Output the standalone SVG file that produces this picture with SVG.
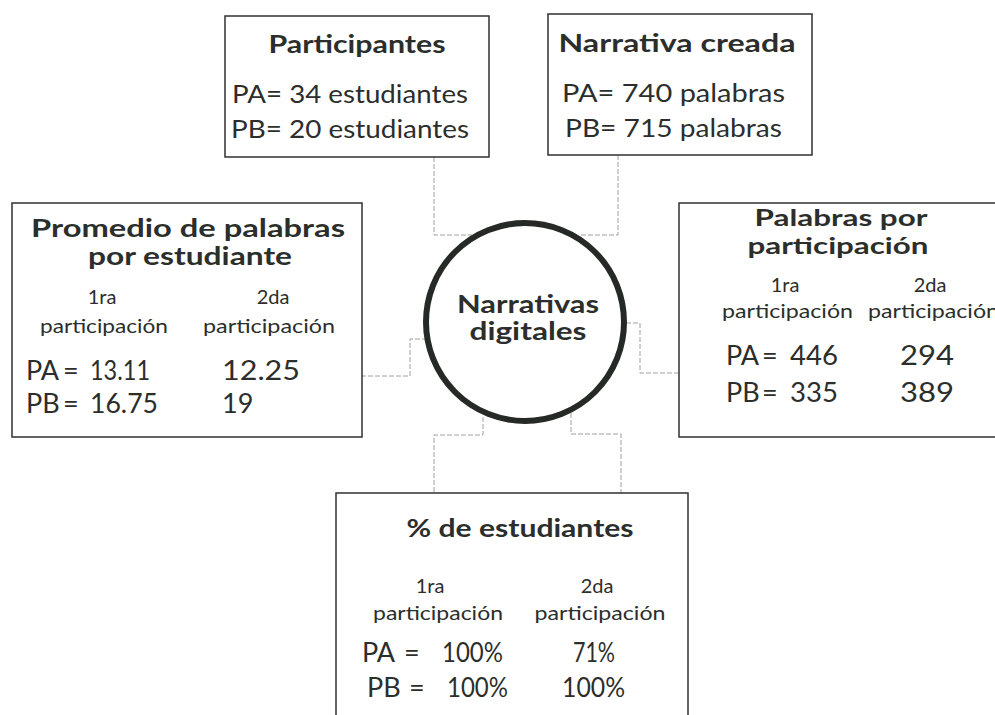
<svg xmlns="http://www.w3.org/2000/svg" width="995" height="715" viewBox="0 0 995 715">
<style>
  .box { fill: #ffffff; stroke: #2f312f; stroke-width: 1.5; }
  .conn { fill: none; stroke: #a0a0a0; stroke-width: 1; stroke-dasharray: 5 2; }
  .t { font-family: "Lato", "Liberation Sans", sans-serif; fill: #2b2e2b; }
  .h { font-weight: 700; font-size: 24px; }
  .h2 { font-weight: 700; font-size: 22px; }
  .b { font-weight: 400; font-size: 25px; }
  .s { font-weight: 400; font-size: 20px; }
  .n { font-weight: 400; font-size: 27px; }
  .m { text-anchor: middle; }
</style>
<rect width="995" height="715" fill="#ffffff"/>

<g id="connectors">
  <polyline class="conn" points="434,157 434,235 472,235"/>
  <polyline class="conn" points="618,155 618,235 581,235"/>
  <polyline class="conn" points="361,376 410,376 410,339 425,339"/>
  <polyline class="conn" points="626,323 640,323 640,373 679,373"/>
  <polyline class="conn" points="483,417 483,435 434,435 434,493"/>
  <polyline class="conn" points="571,413 571,434 621,434 621,493"/>
</g>

<g id="participantes">
  <rect class="box" x="225" y="16" width="264" height="141"/>
  <text class="t h m" x="357" y="53" textLength="177" lengthAdjust="spacingAndGlyphs">Participantes</text>
  <text class="t b" x="232" y="103" textLength="236" lengthAdjust="spacingAndGlyphs">PA= 34 estudiantes</text>
  <text class="t b" x="231" y="138" textLength="238" lengthAdjust="spacingAndGlyphs">PB= 20 estudiantes</text>
</g>

<g id="narrativa-creada">
  <rect class="box" x="548" y="14" width="264" height="141"/>
  <text class="t h m" x="677" y="52" textLength="237" lengthAdjust="spacingAndGlyphs">Narrativa creada</text>
  <text class="t b" x="562" y="102" textLength="223" lengthAdjust="spacingAndGlyphs">PA= 740 palabras</text>
  <text class="t b" x="565" y="137" textLength="217" lengthAdjust="spacingAndGlyphs">PB= 715 palabras</text>
</g>

<g id="promedio">
  <rect class="box" x="12" y="203" width="350" height="234"/>
  <text class="t h m" x="188" y="237" textLength="314" lengthAdjust="spacingAndGlyphs">Promedio de palabras</text>
  <text class="t h m" x="190" y="265" textLength="204" lengthAdjust="spacingAndGlyphs">por estudiante</text>
  <text class="t s m" x="102" y="304">1ra</text>
  <text class="t s m" x="104" y="333" textLength="128" lengthAdjust="spacingAndGlyphs">participación</text>
  <text class="t s m" x="273" y="304">2da</text>
  <text class="t s m" x="269" y="333" textLength="132" lengthAdjust="spacingAndGlyphs">participación</text>
  <text class="t n" x="26" y="380">PA</text>
  <text class="t n" x="63" y="380">=</text>
  <text class="t n" x="90" y="380" textLength="60" lengthAdjust="spacingAndGlyphs">13.11</text>
  <text class="t n" x="26" y="413">PB</text>
  <text class="t n" x="63" y="413">=</text>
  <text class="t n" x="90" y="413" textLength="68" lengthAdjust="spacingAndGlyphs">16.75</text>
  <text class="t n" x="222" y="380" textLength="78" lengthAdjust="spacingAndGlyphs">12.25</text>
  <text class="t n" x="222" y="413">19</text>
</g>

<g id="palabras-por-participacion">
  <rect class="box" x="679" y="203" width="330" height="234"/>
  <text class="t h2 m" x="841" y="226" textLength="173" lengthAdjust="spacingAndGlyphs">Palabras por</text>
  <text class="t h2 m" x="838" y="254" textLength="181" lengthAdjust="spacingAndGlyphs">participación</text>
  <text class="t s m" x="785" y="292">1ra</text>
  <text class="t s" x="722" y="318" textLength="131" lengthAdjust="spacingAndGlyphs">participación</text>
  <text class="t s m" x="930" y="292">2da</text>
  <text class="t s" x="868" y="318" textLength="131" lengthAdjust="spacingAndGlyphs">participación</text>
  <text class="t n" x="726" y="365">PA</text>
  <text class="t n" x="762" y="365">=</text>
  <text class="t n" x="790" y="365" textLength="48" lengthAdjust="spacingAndGlyphs">446</text>
  <text class="t n" x="900" y="365" textLength="54" lengthAdjust="spacingAndGlyphs">294</text>
  <text class="t n" x="726" y="402">PB</text>
  <text class="t n" x="762" y="402">=</text>
  <text class="t n" x="790" y="402" textLength="48" lengthAdjust="spacingAndGlyphs">335</text>
  <text class="t n" x="900" y="402" textLength="54" lengthAdjust="spacingAndGlyphs">389</text>
</g>

<g id="porcentaje-estudiantes">
  <rect class="box" x="336" y="493" width="352" height="240"/>
  <text class="t h m" x="520" y="537" textLength="227" lengthAdjust="spacingAndGlyphs">% de estudiantes</text>
  <text class="t s m" x="430" y="593">1ra</text>
  <text class="t s m" x="438" y="620" textLength="130" lengthAdjust="spacingAndGlyphs">participación</text>
  <text class="t s m" x="597" y="593">2da</text>
  <text class="t s m" x="600" y="620" textLength="131" lengthAdjust="spacingAndGlyphs">participación</text>
  <text class="t n" x="362" y="662">PA</text>
  <text class="t n" x="404" y="662">=</text>
  <text class="t n" x="442" y="662" textLength="61" lengthAdjust="spacingAndGlyphs">100%</text>
  <text class="t n" x="573" y="662" textLength="42" lengthAdjust="spacingAndGlyphs">71%</text>
  <text class="t n" x="367" y="697">PB</text>
  <text class="t n" x="409" y="697">=</text>
  <text class="t n" x="447" y="697" textLength="61" lengthAdjust="spacingAndGlyphs">100%</text>
  <text class="t n" x="562" y="697" textLength="63" lengthAdjust="spacingAndGlyphs">100%</text>
</g>

<g id="narrativas-digitales">
  <circle cx="525" cy="322" r="99" fill="#ffffff" stroke="#262a26" stroke-width="6"/>
  <text class="t h m" x="528" y="313" textLength="142" lengthAdjust="spacingAndGlyphs">Narrativas</text>
  <text class="t h m" x="528" y="340" textLength="117" lengthAdjust="spacingAndGlyphs">digitales</text>
</g>
</svg>
